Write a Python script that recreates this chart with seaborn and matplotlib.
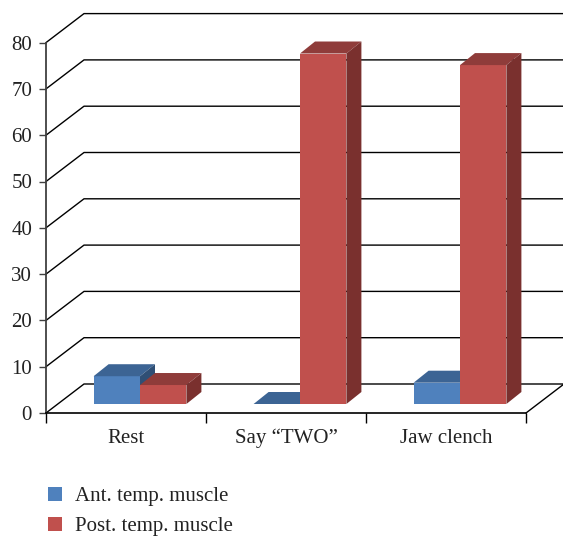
import pandas as pd
import matplotlib
matplotlib.use("Agg")
import matplotlib.pyplot as plt
from matplotlib.patches import Polygon, Patch
import seaborn as sns

# values
categories = ["Rest", "Say \u201cTWO\u201d", "Jaw clench"]
series = ["Ant. temp. muscle", "Post. temp. muscle"]
ant_values = [6.0, 0.0, 4.6]
post_values = [4.1, 75.7, 73.2]
yticks = [0, 10, 20, 30, 40, 50, 60, 70, 80]

front_colors = ["#4F81BD", "#C0504D"]
top_colors = ["#3C6494", "#8F3C3A"]
side_colors = ["#2F4F75", "#7A302E"]

df = pd.DataFrame({
    "category": categories * 2,
    "series": [series[0]] * 3 + [series[1]] * 3,
    "value": ant_values + post_values,
})

sns.set_style("white")
plt.rcParams["font.family"] = ["Liberation Serif", "DejaVu Serif"]

W, H = 563, 536
fig = plt.figure(figsize=(W / 100, H / 100), dpi=100)

# pixel geometry of the plot floor
x0_px, y0_px = 46, 413
cat_px = 160.0
unit_px = 4.63
ax = fig.add_axes([x0_px / W, (H - y0_px) / H, (W - x0_px) / W, y0_px / H])

# depth offsets (data units)
back_dx, back_dy = 38 / cat_px, 29 / unit_px
front_dx, front_dy = 14 / cat_px, 9 / unit_px
depth_dx, depth_dy = 15 / cat_px, 12 / unit_px

sns.barplot(data=df, x="category", y="value", hue="series", order=categories,
            hue_order=series, palette=front_colors, width=0.58, errorbar=None,
            saturation=1, legend=False, ax=ax)

# seaborn resets the limits, so set them afterwards
ax.set_xlim(-0.5, -0.5 + (W - x0_px) / cat_px)
ax.set_ylim(0, y0_px / unit_px)

# back wall gridlines and floor
x_right = ax.get_xlim()[1]
for v in yticks:
    ax.plot([-0.5, -0.5 + back_dx, x_right], [v, v + back_dy, v + back_dy],
            color="black", lw=1, zorder=1, clip_on=False)
ax.plot([2.5, 2.5 + back_dx], [0, back_dy], color="black", lw=1, zorder=1, clip_on=False)

# turn flat bars into 3d boxes
for i, cont in enumerate(ax.containers):
    z = 3 + i
    for bar in cont:
        bx = bar.get_x() + front_dx
        bw = bar.get_width()
        bh = bar.get_height()
        by = front_dy
        bar.set_x(bx)
        bar.set_y(by)
        bar.set_zorder(z)
        bar.set_edgecolor("none")
        top = by + bh
        ax.add_patch(Polygon([(bx, top), (bx + bw, top), (bx + bw + depth_dx, top + depth_dy),
                              (bx + depth_dx, top + depth_dy)],
                             closed=True, facecolor=top_colors[i], edgecolor="none", zorder=z))
        if bh > 0:
            ax.add_patch(Polygon([(bx + bw, by), (bx + bw + depth_dx, by + depth_dy),
                                  (bx + bw + depth_dx, top + depth_dy), (bx + bw, top)],
                                 closed=True, facecolor=side_colors[i], edgecolor="none", zorder=z))

# axes styling
for s in ["top", "right"]:
    ax.spines[s].set_visible(False)
ax.spines["left"].set_bounds(0, 80)
ax.spines["left"].set_color("#404040")
ax.spines["left"].set_linewidth(1.3)
ax.spines["left"].set_zorder(6)
ax.spines["bottom"].set_bounds(-0.5, 2.5)
ax.spines["bottom"].set_color("black")
ax.spines["bottom"].set_linewidth(1.2)
ax.spines["bottom"].set_zorder(6)

ax.set_yticks(yticks)
ax.tick_params(axis="y", left=True, length=5, width=1, color="#404040", pad=5,
               labelsize=15, labelcolor="#222222")
ax.set_xticks(range(len(categories)))
ax.set_xticklabels(categories)
ax.set_xticks([-0.5, 0.5, 1.5, 2.5], minor=True)
ax.tick_params(axis="x", which="major", bottom=False, pad=8, labelsize=15, labelcolor="#222222")
ax.tick_params(axis="x", which="minor", bottom=True, length=7, width=1, color="black")
ax.set_xlabel("")
ax.set_ylabel("")
ax.grid(False)

handles = [Patch(facecolor=c, edgecolor="none") for c in front_colors]
fig.legend(handles, series, loc="upper left", bbox_to_anchor=(29 / W, 1 - 468 / H),
           bbox_transform=fig.transFigure, frameon=False, fontsize=15,
           handlelength=0.7, handleheight=0.7, handletextpad=0.6, labelspacing=0.5,
           labelcolor="#222222")

fig.savefig("out.png", dpi=100)
